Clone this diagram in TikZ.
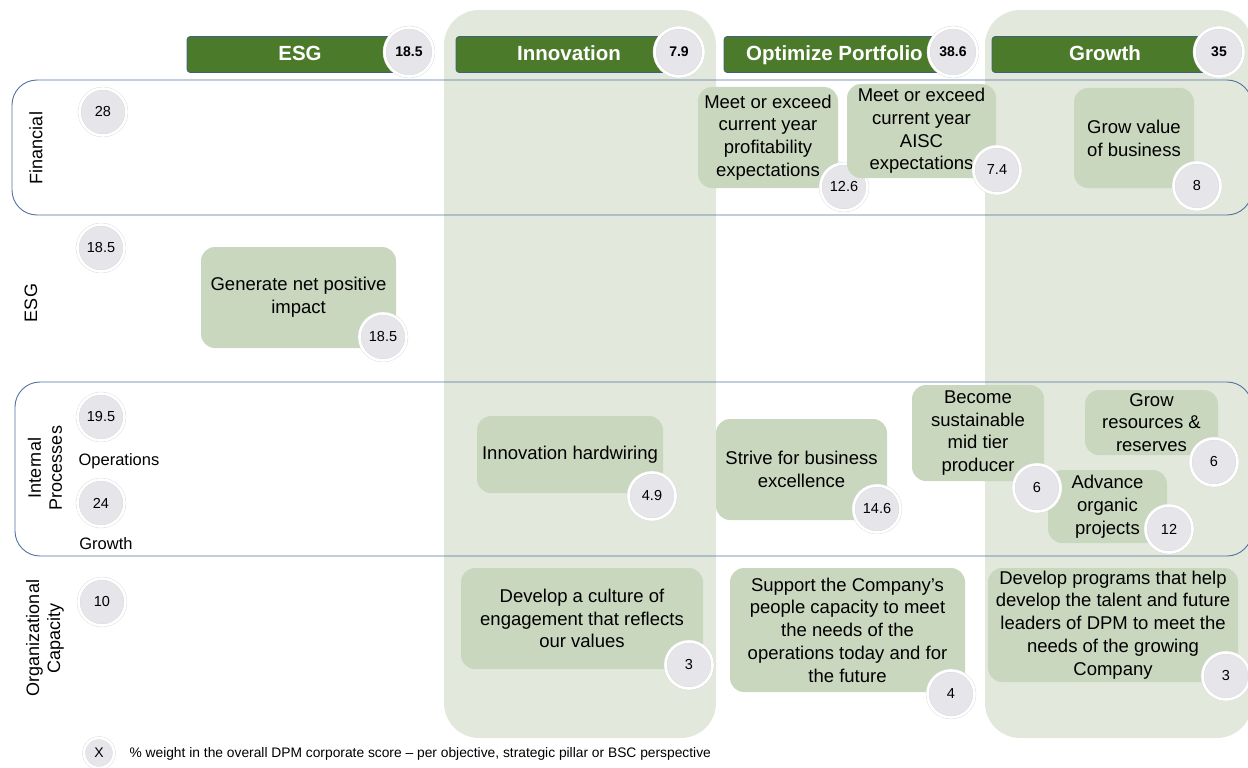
\documentclass[tikz,border=0pt]{standalone}
\usepackage{fontspec}
\setmainfont{Liberation Sans}
\definecolor{colbg}{HTML}{E2E9DC}
\definecolor{objfill}{HTML}{C9D7BF}
\definecolor{hdrgreen}{HTML}{4B7A2A}
\definecolor{hdrline}{HTML}{3F5F8A}
\definecolor{rowline}{HTML}{5270A0}
\definecolor{circfill}{HTML}{E6E6EA}
\begin{document}
\begin{tikzpicture}[x=1pt,y=-1pt,
  col/.style={fill=colbg, draw=none, rounded corners=35pt},
  rowbox/.style={draw=rowline, line width=0.9pt, rounded corners=25pt},
  hdr/.style={fill=hdrgreen, draw=hdrline, line width=0.6pt, rounded corners=3pt, text=white,
    font=\fontsize{20.5}{22}\selectfont\bfseries, text height=15pt, text depth=4pt,
    minimum height=36pt, minimum width=226pt, inner sep=0pt},
  wt/.style={circle, fill=circfill, draw=gray!30, double=white, double distance=2.6pt,
    line width=0.4pt, minimum size=47pt, inner sep=0pt, font=\fontsize{14.5}{16}\selectfont},
  hwt/.style={wt, minimum size=49pt, font=\fontsize{14}{16}\selectfont\bfseries},
  obj/.style={fill=objfill, rounded corners=14pt, align=center, inner sep=0pt,
    font=\fontsize{18.5}{22.8}\selectfont},
  rowlbl/.style={rotate=90, align=center, font=\fontsize{18}{21}\selectfont},
  sublbl/.style={font=\fontsize{16.5}{18}\selectfont}]
\useasboundingbox (0,0) rectangle (1248,768);
% columns
\fill[col] (444,10) rectangle (716,738);
\fill[col] (985,10) rectangle (1252,738);
% row boxes
\draw[rowbox] (12,80) rectangle (1252,215);
\draw[rowbox] (15,382) rectangle (1252,556);
% headers
\node[hdr] (hesg) at (300,54.5) {ESG};
\node[hdr] (hinn) at (569,54.5) {Innovation};
\node[hdr] (hopt) at (837,54.5) {\hspace*{-5pt}Optimize Portfolio};
\node[hdr] (hgro) at (1105,54.5) {Growth};
\node[hwt] (cesg) at (409,52) {18.5};
\node[hwt] (cinn) at (679,52) {7.9};
\node[hwt] (copt) at (953,52) {38.6};
\node[hwt] (cgro) at (1219,52) {35};
% row labels
\node[rowlbl] (lfin) at (36,148) {Financial};
\node[rowlbl] (lesg) at (31,303) {ESG};
\node[rowlbl] (lint) at (45,468) {Internal\\Processes};
\node[rowlbl] (lorg) at (45,638) {Organizational\\Capacity};
\node[wt] (wfin) at (103,112) {28};
\node[wt] (wesg) at (101,248) {18.5};
\node[wt] (wops) at (101,417) {19.5};
\node[sublbl] (tops) at (119,461) {Operations};
\node[wt] (wgro) at (101,503) {24};
\node[sublbl] (tgro) at (106,544) {Growth};
\node[wt] (worg) at (102,602) {10};
% objectives
\node[obj, minimum width=140pt, minimum height=101pt] (p1) at (768,137.5) {Meet or exceed\\current year\\profitability\\expectations};
\node[wt] (c1) at (844,187) {12.6};
\node[obj, minimum width=149pt, minimum height=94pt] (p2) at (921.5,131) {Meet or exceed\\current year\\AISC\\expectations};
\node[wt] (c2) at (997,170) {7.4};
\node[obj, minimum width=120pt, minimum height=100pt] (p3) at (1134,138) {Grow value\\of business};
\node[wt] (c3) at (1197,186) {8};
\node[obj, minimum width=195pt, minimum height=101pt] (e1) at (298.5,297.5) {Generate net positive\\impact};
\node[wt] (ce1) at (383,337) {18.5};
\node[obj, minimum width=186pt, minimum height=77pt] (i1) at (570,454.5) {Innovation hardwiring};
\node[wt] (ci1) at (652,496) {4.9};
\node[obj, minimum width=171pt, minimum height=101pt] (i2) at (801.5,469.5) {Strive for business\\excellence};
\node[wt] (ci2) at (877,509) {14.6};
\node[obj, minimum width=132pt, minimum height=96pt] (i3) at (978,433) {Become\\sustainable\\mid tier\\producer};
\node[obj, minimum width=133pt, minimum height=65pt] (i4) at (1151.5,422.5) {Grow\\resources \&\\reserves};
\node[wt] (ci4) at (1214,462) {6};
\node[obj, minimum width=119pt, minimum height=73pt] (i5) at (1107.5,506.5) {Advance\\organic\\projects};
\node[wt] (ci3) at (1037,488) {6};
\node[wt] (ci5) at (1169,529) {12};
\node[obj, minimum width=242pt, minimum height=101pt] (o1) at (582,618.5) {Develop a culture of\\engagement that reflects\\our values};
\node[wt] (co1) at (689,665) {3};
\node[obj, minimum width=235pt, minimum height=124pt] (o2) at (847.5,630) {Support the Company’s\\people capacity to meet\\the needs of the\\operations today and for\\the future};
\node[wt] (co2) at (951,694) {4};
\node[obj, minimum width=250pt, minimum height=114pt] (o3) at (1113,625) {Develop programs that help\\develop the talent and future\\leaders of DPM to meet the\\needs of the growing\\Company};
\node[wt] (co3) at (1226,676) {3};
% legend
\node[wt, minimum size=30pt, font=\fontsize{14}{15}\selectfont] (leg) at (99,753) {X};
\node[anchor=west, font=\fontsize{13.8}{15}\selectfont] (legt) at (126,754) {\% weight in the overall DPM corporate score – per objective, strategic pillar or BSC perspective};
\end{tikzpicture}
\end{document}
